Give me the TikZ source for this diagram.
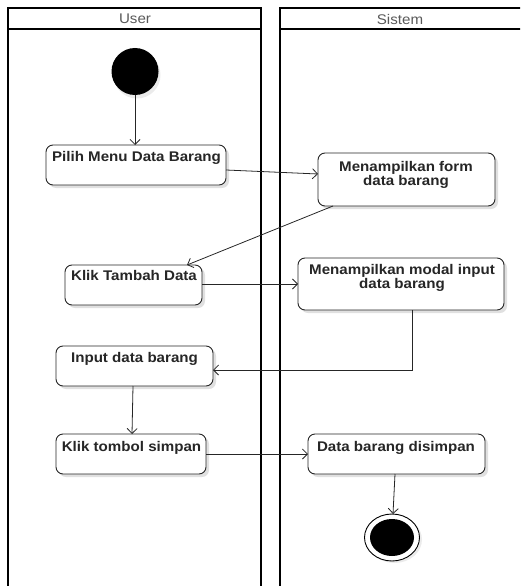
\documentclass[tikz,border=0pt]{standalone}
\usepackage{fontspec}
\setmainfont{Liberation Sans}
\newfontfamily\diagfont[FakeStretch=1.08]{Liberation Sans}
\usetikzlibrary{arrows.meta,shadows}
\begin{document}
\begin{tikzpicture}[x=1pt,y=-1pt,
  lane/.style={draw=black,line width=2pt},
  act/.style={draw=black!85,line width=0.9pt,rounded corners=7pt,fill=white,
    drop shadow={shadow xshift=3pt,shadow yshift=-3pt,fill=black!12,opacity=1}},
  acttext/.style={font=\diagfont\bfseries\fontsize{14}{12}\selectfont,text=black!85,align=center,anchor=north,inner sep=0pt},
  hdr/.style={font=\diagfont\fontsize{14}{14}\selectfont,text=black!65},
  flow/.style={draw=black!85,line width=0.8pt,-{Straight Barb[length=5pt,width=10pt]}}]
\useasboundingbox (0,0) rectangle (520,586);
% lanes
\begin{scope}
\clip (0,0) rectangle (520,586);
\draw[lane] (8,600) -- (8,8) -- (261,8) -- (261,600);
\draw[lane] (8,29.5) -- (261,29.5);
\draw[lane] (280,600) -- (280,8) -- (530,8);
\draw[lane] (280,29.5) -- (530,29.5);
\end{scope}
\node[hdr] (hu) at (135,19) {User};
\node[hdr] (hs) at (400,19) {Sistem};
% start
\fill[black!8] (137,75) circle (23.5);
\node[circle,fill=black,minimum size=47pt,inner sep=0pt] (start) at (135,71.5) {};
% activities
\draw[act] (46,145) rectangle (226,185);
\node[acttext] (t1) at (136.5,151.5) {Pilih Menu Data Barang};
\draw[act] (318,153) rectangle (495,206);
\node[acttext] (t2) at (406,161) {Menampilkan form\\data barang};
\draw[act] (65,265) rectangle (202,305);
\node[acttext] (t3) at (134,270) {Klik Tambah Data};
\draw[act] (298,258) rectangle (504,310);
\node[acttext] (t4) at (402,264) {Menampilkan modal input\\data barang};
\draw[act] (56,346) rectangle (213,386);
\node[acttext] (t5) at (134.5,352.5) {Input data barang};
\draw[act] (56,434) rectangle (206,474);
\node[acttext] (t6) at (131.5,441.5) {Klik tombol simpan};
\draw[act] (308,434) rectangle (485,474);
\node[acttext] (t7) at (396,441.5) {Data barang disimpan};
% named box anchors
\coordinate (b1s) at (135,145);
\coordinate (b1e) at (226,170);
\coordinate (b2w) at (318,174);
\coordinate (b2s) at (333,206);
\coordinate (b3n) at (187,265);
\coordinate (b3e) at (202,284);
\coordinate (b4w) at (298,284);
\coordinate (b4s) at (412,310);
\coordinate (b5e) at (213,370);
\coordinate (b5s) at (133,386);
\coordinate (b6n) at (132,434);
\coordinate (b6e) at (206,454);
\coordinate (b7w) at (308,454);
\coordinate (b7s) at (395,474);
% end
\fill[black!8] (394.5,539.5) ellipse (27.5 and 23.5);
\draw[black,line width=0.9pt,fill=white] (392,537.5) ellipse (27.5 and 23.5);
\fill[black] (392,537.5) ellipse (22 and 18.5);
\coordinate (endn) at (393,514);
% flows
\draw[flow] (start) -- (b1s);
\draw[flow] (b1e) -- (b2w);
\draw[flow] (b2s) -- (b3n);
\draw[flow] (b3e) -- (b4w);
\draw[flow] (b4s) |- (b5e);
\draw[flow] (b5s) -- (b6n);
\draw[flow] (b6e) -- (b7w);
\draw[flow] (b7s) -- (endn);
\end{tikzpicture}
\end{document}
